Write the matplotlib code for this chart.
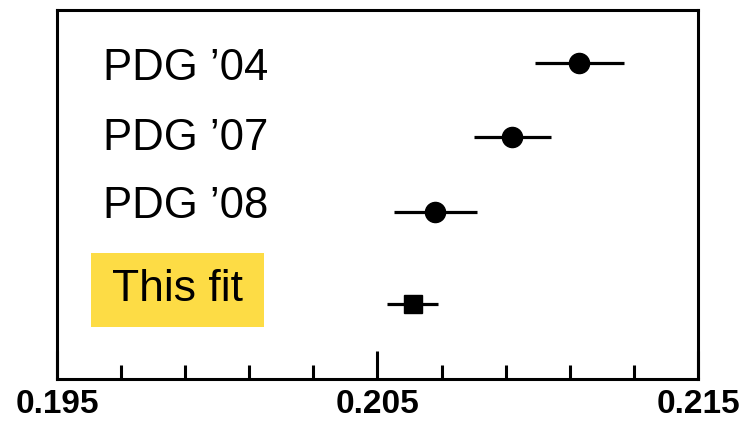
import matplotlib

matplotlib.use("Agg")
import matplotlib.pyplot as plt
from matplotlib.patches import Rectangle
from matplotlib.ticker import FixedLocator, FormatStrFormatter
import numpy as np

plt.rcParams["font.family"] = ["Liberation Sans", "DejaVu Sans"]

# valores
labels = ["PDG \u201904", "PDG \u201907", "PDG \u201908", "This fit"]
centers = [0.2113, 0.2092, 0.2068, 0.2061]
errors = [0.0014, 0.0012, 0.0013, 0.0008]
rows = [4.0, 3.0, 2.0, 0.77]
label_rows = [3.93, 2.99, 2.07, 0.96]
major_ticks = [0.195, 0.205, 0.215]
minor_ticks = [0.197, 0.199, 0.201, 0.203, 0.207, 0.209, 0.211, 0.213]

fig = plt.figure(figsize=(7.45, 4.25), dpi=100)
ax = fig.add_axes([57 / 745, 46 / 425, 641 / 745, 369 / 425])

# PDG: círculos; este ajuste: quadrado
for i in range(3):
    ax.errorbar(centers[i], rows[i], xerr=errors[i], fmt="o", color="black",
                ms=14.5, elinewidth=2.3, capsize=0)
ax.errorbar(centers[3], rows[3], xerr=errors[3], fmt="s", color="black",
            ms=13.5, elinewidth=2.3, capsize=0)

for lab, yy in zip(labels[:3], label_rows[:3]):
    ax.text(0.072, yy, lab, transform=ax.get_yaxis_transform(),
            fontsize=31.5, va="center", ha="left")

ax.add_patch(Rectangle((0.053, 0.141), 0.27, 0.2005, transform=ax.transAxes,
                       facecolor="#FDDC45", edgecolor="none", zorder=0))
ax.text(0.053 + 0.135, label_rows[3], labels[3], transform=ax.get_yaxis_transform(),
        fontsize=32, va="center", ha="center")

ax.set_xlim(0.195, 0.215)
ax.set_ylim(-0.24, 4.71)
ax.xaxis.set_major_locator(FixedLocator(major_ticks))
ax.xaxis.set_minor_locator(FixedLocator(minor_ticks))
ax.xaxis.set_major_formatter(FormatStrFormatter("%.3f"))
ax.tick_params(axis="x", which="major", direction="in", length=20, width=2.2,
               labelsize=24, pad=7)
ax.tick_params(axis="x", which="minor", direction="in", length=10, width=2.2)
ax.set_yticks([])
for lbl in ax.get_xticklabels():
    lbl.set_fontweight("bold")
for s in ax.spines.values():
    s.set_linewidth(2.2)

fig.savefig("out.png", dpi=100)
plt.close(fig)
